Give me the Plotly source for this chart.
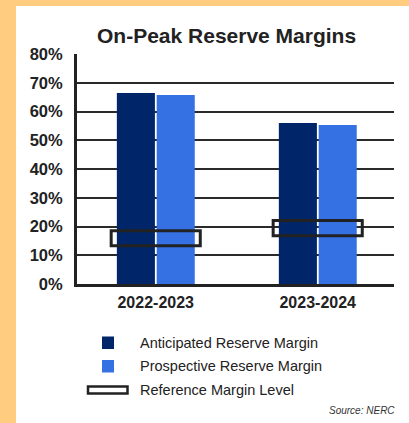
import plotly.graph_objects as go

# ---- data ----
categories = ["2022-2023", "2023-2024"]
anticipated = [66.4, 56.0]
prospective = [65.7, 55.3]
ref_low = [13.3, 16.8]
ref_high = [18.5, 22.1]
y_ticks = [0, 10, 20, 30, 40, 50, 60, 70, 80]
y_tick_labels = [f"{v}%" for v in y_ticks]
legend_labels = ["Anticipated Reserve Margin", "Prospective Reserve Margin", "Reference Margin Level"]
title_text = "On-Peak Reserve Margins"
source_text = "Source: NERC"

DARK = "#012569"
LIGHT = "#3571E2"
ORANGE = "#FFCC80"
FONT = "Liberation Sans, Arial, sans-serif"

W, H = 409, 423
L, R, T, B = 77, 15, 54, 139
PW, PH = W - L - R, H - T - B


def px(x):
    return (x - L) / PW


def py(y):
    return (H - B - y) / PH


fig = go.Figure()
fig.add_trace(go.Bar(x=categories, y=anticipated, marker=dict(color=DARK, line=dict(width=0)),
                     offset=-0.240, width=0.235, name=legend_labels[0], showlegend=False))
fig.add_trace(go.Bar(x=categories, y=prospective, marker=dict(color=LIGHT, line=dict(width=0)),
                     offset=0.006, width=0.235, name=legend_labels[1], showlegend=False))
fig.add_trace(go.Bar(x=categories, y=[h - l for h, l in zip(ref_high, ref_low)], base=ref_low,
                     marker=dict(color="rgba(0,0,0,0)", line=dict(color="#222222", width=3)),
                     offset=-0.275, width=0.55, name=legend_labels[2], showlegend=False))

shapes = [
    # orange frame strips
    dict(type="rect", xref="paper", yref="paper", x0=px(0), x1=px(16), y0=py(H), y1=py(0),
         fillcolor=ORANGE, line=dict(width=0), layer="below"),
    dict(type="rect", xref="paper", yref="paper", x0=px(0), x1=px(W), y0=py(6), y1=py(0),
         fillcolor=ORANGE, line=dict(width=0), layer="below"),
    # legend symbols
    dict(type="rect", xref="paper", yref="paper", x0=px(102), x1=px(114), y0=py(349), y1=py(336.5),
         fillcolor=DARK, line=dict(width=0)),
    dict(type="rect", xref="paper", yref="paper", x0=px(102), x1=px(114), y0=py(372.5), y1=py(360),
         fillcolor=LIGHT, line=dict(width=0)),
    dict(type="rect", xref="paper", yref="paper", x0=px(88), x1=px(127.5), y0=py(393.5), y1=py(386.5),
         fillcolor="white", line=dict(color="#222222", width=2.5)),
]

annotations = [
    dict(text=title_text, xref="paper", yref="paper", x=px(226.5), y=py(35), showarrow=False,
         xanchor="center", yanchor="middle",
         font=dict(family=FONT, size=21, color="#222222", weight="bold")),
    dict(text=source_text, xref="paper", yref="paper", x=px(397), y=py(410.5), showarrow=False,
         xanchor="right", yanchor="middle",
         font=dict(family=FONT, size=10, color="#333333", style="italic")),
]
for lbl, yc in zip(legend_labels, [342.5, 366, 389.5]):
    annotations.append(dict(text=lbl, xref="paper", yref="paper", x=px(138), y=py(yc), showarrow=False,
                            xanchor="left", yanchor="middle",
                            font=dict(family=FONT, size=14.5, color="#222222")))

fig.update_layout(
    width=W, height=H,
    margin=dict(l=L, r=R, t=T, b=B, pad=0),
    paper_bgcolor="white", plot_bgcolor="white",
    barmode="overlay",
    showlegend=False,
    shapes=shapes,
    annotations=annotations,
    xaxis=dict(type="category", range=[-0.486, 1.471], showgrid=False,
               showline=True, linecolor="#222222", linewidth=3, ticks="",
               tickfont=dict(family=FONT, size=16, color="#222222", weight="bold"),
               ticklabelstandoff=2, fixedrange=True),
    yaxis=dict(range=[0, 80], tickvals=y_ticks, ticktext=y_tick_labels,
               showgrid=True, gridcolor="#2a2a2a", gridwidth=1.6,
               showline=True, linecolor="#222222", linewidth=3, ticks="",
               zeroline=False,
               tickfont=dict(family=FONT, size=16.5, color="#222222", weight="bold"),
               ticklabelstandoff=8, fixedrange=True),
)

fig.write_html("out.html", config={"displayModeBar": False},
               post_script="document.body.style.margin='0';document.body.style.padding='0';")
